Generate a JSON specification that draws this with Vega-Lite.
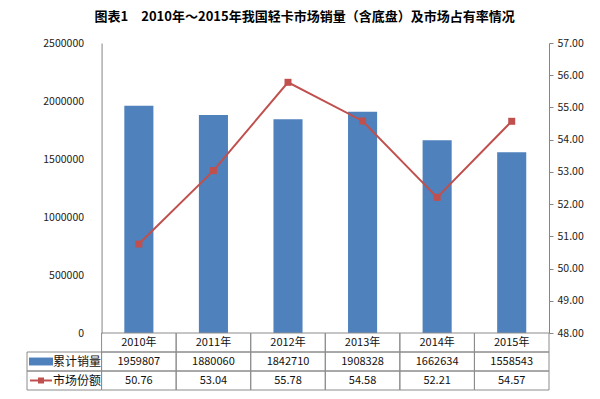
{
  "$schema": "https://vega.github.io/schema/vega-lite/v6.json",
  "background": "white",
  "padding": {"left": 26, "top": 11, "right": 10, "bottom": 9},
  "title": {
    "text": "图表1　2010年～2015年我国轻卡市场销量（含底盘）及市场占有率情况",
    "font": "Noto Sans CJK SC",
    "fontSize": 13,
    "fontWeight": "bold",
    "color": "#000000",
    "anchor": "middle",
    "offset": 14
  },
  "config": {"view": {"stroke": null}, "font": "Noto Sans CJK SC"},
  "datasets": {
    "years": [
      {"year": "2010年", "sales": 1959807, "share": 50.76},
      {"year": "2011年", "sales": 1880060, "share": 53.04},
      {"year": "2012年", "sales": 1842710, "share": 55.78},
      {"year": "2013年", "sales": 1908328, "share": 54.58},
      {"year": "2014年", "sales": 1662634, "share": 52.21},
      {"year": "2015年", "sales": 1558543, "share": 54.57}
    ],
    "legend": [
      {"col": "legend", "key": "sales", "label": "累计销量"},
      {"col": "legend", "key": "share", "label": "市场份额"}
    ]
  },
  "spacing": 0,
  "bounds": "flush",
  "vconcat": [
    {
      "width": 522,
      "height": 290,
      "data": {"name": "years"},
      "layer": [
        {
          "mark": {"type": "bar", "color": "#4F81BD", "width": {"band": 0.39}},
          "encoding": {
            "x": {"field": "year", "type": "nominal", "scale": {"domain": ["legend", "2010年", "2011年", "2012年", "2013年", "2014年", "2015年"], "paddingInner": 0, "paddingOuter": 0}, "axis": null},
            "y": {
              "field": "sales", "type": "quantitative",
              "scale": {"domain": [0, 2500000], "nice": false},
              "axis": {"values": [0, 500000, 1000000, 1500000, 2000000, 2500000], "format": "d", "offset": -74.57, "ticks": false, "labelPadding": 18, "domainColor": "#868686", "labelFont": "Noto Sans CJK SC", "labelFontSize": 10.5, "labelColor": "#222222", "grid": false, "title": null}
            }
          }
        },
        {
          "encoding": {
            "x": {"field": "year", "type": "nominal", "scale": {"domain": ["legend", "2010年", "2011年", "2012年", "2013年", "2014年", "2015年"], "paddingInner": 0, "paddingOuter": 0}, "axis": null},
            "y": {
              "field": "share", "type": "quantitative",
              "scale": {"domain": [48, 57], "nice": false, "zero": false},
              "axis": {"orient": "right", "values": [48, 49, 50, 51, 52, 53, 54, 55, 56, 57], "format": ".2f", "tickSize": 4, "tickColor": "#868686", "domainColor": "#868686", "labelPadding": 4, "labelFont": "Noto Sans CJK SC", "labelFontSize": 10.5, "labelColor": "#222222", "grid": false, "title": null}
            }
          },
          "layer": [
            {"mark": {"type": "line", "color": "#C0504D", "strokeWidth": 2}},
            {"mark": {"type": "point", "shape": "square", "filled": true, "color": "#C0504D", "size": 49, "opacity": 1}}
          ]
        }
      ],
      "resolve": {"scale": {"y": "independent"}}
    },
    {
      "width": 522,
      "height": 57,
      "layer": [
        {
          "data": {"name": "years"},
          "transform": [{"fold": ["year", "sales", "share"], "as": ["key", "value"]}],
          "mark": {"type": "rect", "fill": "transparent", "stroke": "#8c8c8c", "strokeWidth": 1},
          "encoding": {
            "x": {"field": "year", "type": "nominal", "scale": {"domain": ["legend", "2010年", "2011年", "2012年", "2013年", "2014年", "2015年"], "paddingInner": 0, "paddingOuter": 0}, "axis": null},
            "y": {"field": "key", "type": "nominal", "scale": {"domain": ["year", "sales", "share"], "paddingInner": 0, "paddingOuter": 0}, "axis": null}
          }
        },
        {
          "data": {"name": "legend"},
          "mark": {"type": "rect", "fill": "transparent", "stroke": "#8c8c8c", "strokeWidth": 1},
          "encoding": {
            "x": {"field": "col", "type": "nominal"},
            "y": {"field": "key", "type": "nominal"}
          }
        },
        {
          "data": {"name": "years"},
          "mark": {"type": "text", "fontSize": 11, "color": "#111111", "baseline": "middle"},
          "encoding": {
            "x": {"field": "year", "type": "nominal"},
            "y": {"datum": "year", "type": "nominal"},
            "text": {"field": "year"}
          }
        },
        {
          "data": {"name": "years"},
          "mark": {"type": "text", "fontSize": 11, "color": "#111111", "baseline": "middle"},
          "encoding": {
            "x": {"field": "year", "type": "nominal"},
            "y": {"datum": "sales", "type": "nominal"},
            "text": {"field": "sales", "type": "quantitative", "format": "d"}
          }
        },
        {
          "data": {"name": "years"},
          "mark": {"type": "text", "fontSize": 11, "color": "#111111", "baseline": "middle"},
          "encoding": {
            "x": {"field": "year", "type": "nominal"},
            "y": {"datum": "share", "type": "nominal"},
            "text": {"field": "share", "type": "quantitative", "format": ".2f"}
          }
        },
        {
          "data": {"name": "legend"},
          "mark": {"type": "text", "fontSize": 12, "color": "#111111", "baseline": "middle"},
          "encoding": {
            "x": {"field": "col", "type": "nominal", "bandPosition": 0.67},
            "y": {"field": "key", "type": "nominal"},
            "text": {"field": "label"}
          }
        },
        {
          "data": {"name": "legend"},
          "transform": [{"filter": "datum.key === 'sales'"}],
          "mark": {"type": "point", "shape": "M-1,-0.33H1V0.33H-1Z", "size": 576, "filled": true, "color": "#4F81BD", "opacity": 1, "strokeWidth": 0},
          "encoding": {
            "x": {"field": "col", "type": "nominal", "bandPosition": 0.188},
            "y": {"field": "key", "type": "nominal"}
          }
        },
        {
          "data": {"name": "legend"},
          "transform": [{"filter": "datum.key === 'share'"}],
          "mark": {"type": "point", "shape": "M-1,0H1", "size": 484, "filled": false, "color": "#C0504D", "opacity": 1, "strokeWidth": 2},
          "encoding": {
            "x": {"field": "col", "type": "nominal", "bandPosition": 0.188},
            "y": {"field": "key", "type": "nominal"}
          }
        },
        {
          "data": {"name": "legend"},
          "transform": [{"filter": "datum.key === 'share'"}],
          "mark": {"type": "point", "shape": "square", "size": 36, "filled": true, "color": "#C0504D", "opacity": 1},
          "encoding": {
            "x": {"field": "col", "type": "nominal", "bandPosition": 0.188},
            "y": {"field": "key", "type": "nominal"}
          }
        }
      ]
    }
  ]
}
